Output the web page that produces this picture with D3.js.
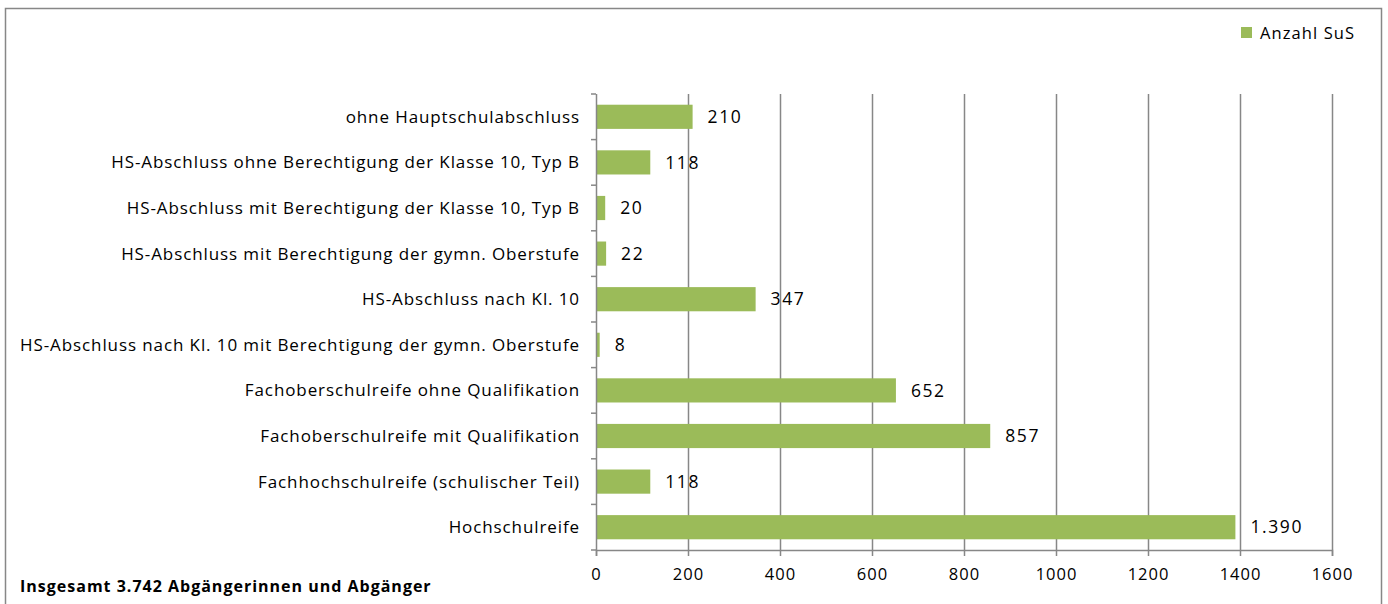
<!DOCTYPE html>
<html>
<head>
<meta charset="utf-8">
<script src="https://cdn.jsdelivr.net/npm/d3@7"></script>
<style>
  body { margin: 0; background: #fff; }
  text { font-family: "Open Sans", sans-serif; fill: #000; }
</style>
</head>
<body>
<script>
// categories, top to bottom
var categories = [
	'ohne Hauptschulabschluss',
	'HS-Abschluss ohne Berechtigung der Klasse 10, Typ B',
	'HS-Abschluss mit Berechtigung der Klasse 10, Typ B',
	'HS-Abschluss mit Berechtigung der gymn. Oberstufe',
	'HS-Abschluss nach Kl. 10',
	'HS-Abschluss nach Kl. 10 mit Berechtigung der gymn. Oberstufe',
	'Fachoberschulreife ohne Qualifikation',
	'Fachoberschulreife mit Qualifikation',
	'Fachhochschulreife (schulischer Teil)',
	'Hochschulreife'
];
var values = [210, 118, 20, 22, 347, 8, 652, 857, 118, 1390];
var xTicks = [0, 200, 400, 600, 800, 1000, 1200, 1400, 1600];
var seriesName = 'Anzahl SuS';
var footnote = 'Insgesamt 3.742 Abgängerinnen und Abgänger';

var width = 1388,
	height = 604;

var plot = { left: 596, right: 1332, top: 94, bottom: 550 };

var svg = d3.select('body')
	.append('svg')
	.attr('width', width)
	.attr('height', height);

// outer chart frame
svg.append('rect')
	.attr('x', 5.5)
	.attr('y', 8.5)
	.attr('width', 1376)
	.attr('height', 620)
	.attr('fill', 'none')
	.attr('stroke', '#878787')
	.attr('stroke-width', 1.5);

var x = d3.scaleLinear()
	.domain([0, 1600])
	.range([plot.left, plot.right]);

var y = d3.scaleBand()
	.domain(categories)
	.range([plot.top, plot.bottom])
	.paddingInner(0.47)
	.paddingOuter(0.235);

// vertical gridlines
svg.append('g')
	.selectAll('line')
	.data(xTicks.slice(1))
	.enter().append('line')
	.attr('x1', function(d) { return Math.round(x(d)) + 0.5; })
	.attr('x2', function(d) { return Math.round(x(d)) + 0.5; })
	.attr('y1', plot.top)
	.attr('y2', plot.bottom)
	.attr('stroke', '#878787')
	.attr('stroke-width', 1.5);

// bars
svg.append('g')
	.selectAll('rect')
	.data(values)
	.enter().append('rect')
	.attr('x', x(0))
	.attr('y', function(d, i) { return y(categories[i]); })
	.attr('width', function(d) { return x(d) - x(0); })
	.attr('height', y.bandwidth())
	.attr('fill', '#9BBB59');

// value labels (german number format)
var de = d3.formatLocale({ decimal: ',', thousands: '.', grouping: [3], currency: ['', ' €'] });
var fmt = de.format(',d');

svg.append('g')
	.selectAll('text')
	.data(values)
	.enter().append('text')
	.attr('x', function(d) { return x(d) + 15; })
	.attr('y', function(d, i) { return y(categories[i]) + y.bandwidth() / 2; })
	.attr('dy', '0.35em')
	.style('font-size', '17.5px')
	.style('letter-spacing', '1.6px')
	.text(fmt);

// x axis
var xAxis = d3.axisBottom(x)
	.tickValues(xTicks)
	.tickSize(6)
	.tickPadding(12)
	.tickFormat(d3.format('d'));

var gx = svg.append('g')
	.attr('transform', 'translate(0,' + plot.bottom + ')')
	.call(xAxis);
gx.select('.domain').attr('stroke', '#878787').attr('stroke-width', 1.5);
gx.selectAll('.tick line').attr('stroke', '#878787').attr('stroke-width', 1.5);
gx.selectAll('.tick text')
	.attr('font-family', null)
	.style('font-size', '16.5px')
	.style('letter-spacing', '1px');

// y axis: ticks at band boundaries, labels at band centres
svg.append('line')
	.attr('x1', plot.left + 0.5)
	.attr('x2', plot.left + 0.5)
	.attr('y1', plot.top)
	.attr('y2', plot.bottom)
	.attr('stroke', '#878787')
	.attr('stroke-width', 1.5);

var step = (plot.bottom - plot.top) / categories.length;
svg.append('g')
	.selectAll('line')
	.data(d3.range(categories.length + 1))
	.enter().append('line')
	.attr('x1', plot.left - 5)
	.attr('x2', plot.left)
	.attr('y1', function(d) { return plot.top + d * step; })
	.attr('y2', function(d) { return plot.top + d * step; })
	.attr('stroke', '#878787')
	.attr('stroke-width', 1.5);

svg.append('g')
	.selectAll('text')
	.data(categories)
	.enter().append('text')
	.attr('x', plot.left - 16)
	.attr('y', function(d) { return y(d) + y.bandwidth() / 2; })
	.attr('dy', '0.35em')
	.attr('text-anchor', 'end')
	.style('font-size', '17px')
	.style('letter-spacing', '0.9px')
	.text(function(d) { return d; });

// legend
svg.append('rect')
	.attr('x', 1241)
	.attr('y', 27)
	.attr('width', 11)
	.attr('height', 11)
	.attr('fill', '#9BBB59');
svg.append('text')
	.attr('x', 1260)
	.attr('y', 33)
	.attr('dy', '0.35em')
	.style('font-size', '16.5px')
	.style('letter-spacing', '1.1px')
	.text(seriesName);

// footnote
svg.append('text')
	.attr('x', 20)
	.attr('y', 586)
	.attr('dy', '0.35em')
	.style('font-size', '16px')
	.style('font-weight', 'bold')
	.style('letter-spacing', '1px')
	.text(footnote);
</script>
</body>
</html>
